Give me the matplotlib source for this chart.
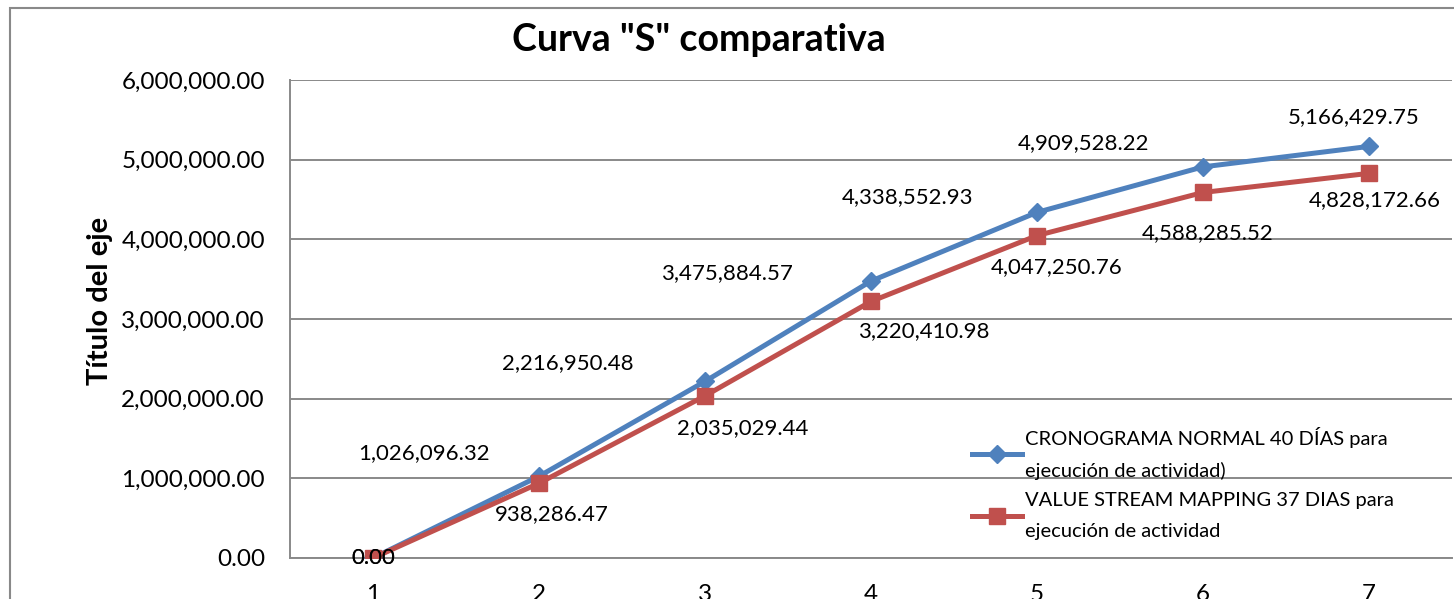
import matplotlib
matplotlib.use("Agg")
import matplotlib.pyplot as plt
from matplotlib.patches import Rectangle
from matplotlib.ticker import FuncFormatter

plt.rcParams['font.family'] = ['Lato', 'DejaVu Sans']

periodos = [1, 2, 3, 4, 5, 6, 7]
normal_40 = [0.00, 1026096.32, 2216950.48, 3475884.57, 4338552.93, 4909528.22, 5166429.75]
vsm_37 = [0.00, 938286.47, 2035029.44, 3220410.98, 4047250.76, 4588285.52, 4828172.66]
nombre_normal = "CRONOGRAMA NORMAL 40 DÍAS para\nejecución de actividad)"
nombre_vsm = "VALUE STREAM MAPPING 37 DIAS para\nejecución de actividad"

# desplazamientos de las etiquetas (en puntos), colocadas a mano como en el original
off_azul = [(0, 0), (-83, 17), (-99, 13), (-104, 6), (-93, 11), (-86, 17), (-11, 21)]
off_rojo = [(0, 0), (9, -22), (27, -23), (38, -21), (14, -23), (3, -29), (4, -19)]

azul = '#4F81BD'
rojo = '#C0504D'
gris = '#898989'

fig = plt.figure(figsize=(14.54, 5.99), dpi=100)
ax = fig.add_axes([290/1454, 1-558/599, 1162/1454, 478/599])

ax.plot(periodos, normal_40, color=azul, lw=3.6, marker='D', ms=9.5,
        label=nombre_normal, zorder=3)
ax.plot(periodos, vsm_37, color=rojo, lw=3.6, marker='s', ms=12,
        label=nombre_vsm, zorder=3.1)

fmt = lambda v: f"{v:,.2f}"
for x, y, o in zip(periodos, normal_40, off_azul):
    ax.annotate(fmt(y), (x, y), xytext=o, textcoords='offset points',
                ha='center', va='center', fontsize=16, zorder=4)
for x, y, o in zip(periodos, vsm_37, off_rojo):
    ax.annotate(fmt(y), (x, y), xytext=o, textcoords='offset points',
                ha='center', va='center', fontsize=16, zorder=4)

ax.set_xlim(0.5, 7.5)
ax.set_ylim(0, 6000000)
ax.set_xticks(periodos)
ax.set_yticks(range(0, 6000001, 1000000))
ax.yaxis.set_major_formatter(FuncFormatter(lambda v, p: f"{v:,.2f}"))
ax.tick_params(axis='both', length=0, labelsize=17.5)
ax.tick_params(axis='y', pad=18)
ax.tick_params(axis='x', pad=19)
ax.grid(axis='y', color=gris, lw=1.4)
ax.set_axisbelow(True)
for s in ['top', 'right']:
    ax.spines[s].set_visible(False)
ax.spines['left'].set_color(gris)
ax.spines['left'].set_linewidth(1.4)
ax.spines['bottom'].set_color(gris)
ax.spines['bottom'].set_linewidth(1.4)

fig.text(100/1454, 1-301/599, "Título del eje", fontsize=21, fontweight='bold',
         rotation=90, ha='center', va='center')
fig.text(699/1454, 1-40/599, 'Curva "S" comparativa', fontsize=27,
         fontweight='bold', ha='center', va='center')

leg = ax.legend(loc='upper left', bbox_to_anchor=(972/1454, 1-427/599),
                bbox_transform=fig.transFigure, frameon=False, fontsize=14.5,
                handlelength=2.5, handletextpad=0.15, labelspacing=0.6,
                borderaxespad=0, borderpad=0)
for t in leg.get_texts():
    t.set_linespacing(1.95)

fig.patches.append(Rectangle((10/1454, -0.2), 1.5, 1.2 - 8/599,
                             transform=fig.transFigure, fill=False,
                             edgecolor=gris, lw=1.5))

fig.savefig("out.png", dpi=100)
